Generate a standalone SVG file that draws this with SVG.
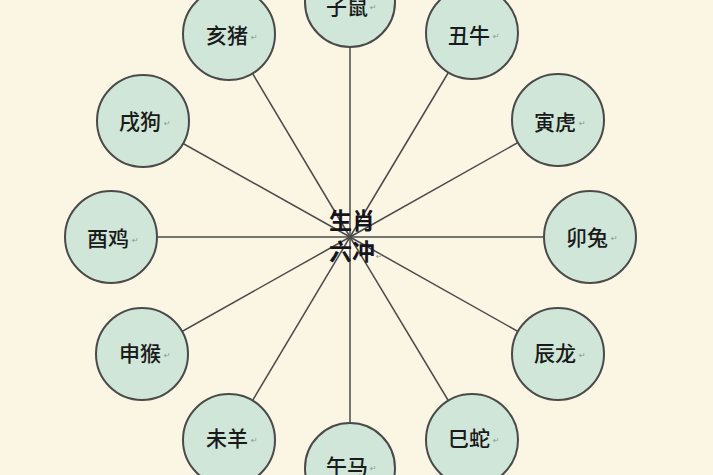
<svg xmlns="http://www.w3.org/2000/svg" width="713" height="475" viewBox="0 0 713 475">
<style>
.bg{fill:#fbf6e4}
.node circle{fill:#cfe6d8;stroke:#4a4a48;stroke-width:2}
.node text.lbl{font-family:"Noto Sans CJK SC","Noto Sans CJK JP",sans-serif;font-size:21px;font-weight:500;fill:#1a1a1a;text-anchor:middle;dominant-baseline:central}
.node text.mk{font-family:"DejaVu Sans",sans-serif;font-size:8px;fill:#8a9a90;dominant-baseline:central}
.links line{stroke:#4a4a4a;stroke-width:1.5}
.title{font-family:"Noto Sans CJK SC","Noto Sans CJK JP",sans-serif;font-size:23px;font-weight:bold;fill:#151520;text-anchor:middle}
</style>
<rect class="bg" x="0" y="0" width="713" height="475"/>
<g class="links">
<line x1="350" y1="237" x2="350" y2="2"/>
<line x1="350" y1="237" x2="472" y2="33"/>
<line x1="350" y1="237" x2="558" y2="120"/>
<line x1="350" y1="237" x2="590" y2="237"/>
<line x1="350" y1="237" x2="558" y2="354"/>
<line x1="350" y1="237" x2="472" y2="440"/>
<line x1="350" y1="237" x2="350" y2="468"/>
<line x1="350" y1="237" x2="229" y2="440"/>
<line x1="350" y1="237" x2="142" y2="354"/>
<line x1="350" y1="237" x2="111" y2="237"/>
<line x1="350" y1="237" x2="143" y2="121"/>
<line x1="350" y1="237" x2="229" y2="34"/>
</g>
<g id="n-zishu" class="node"><circle cx="350" cy="2" r="45"/><text class="lbl" x="347" y="5">子鼠</text><text class="mk" x="370" y="7">↵</text></g>
<g id="n-chouniu" class="node"><circle cx="472" cy="33" r="46"/><text class="lbl" x="469" y="34">丑牛</text><text class="mk" x="493" y="36">↵</text></g>
<g id="n-yinhu" class="node"><circle cx="558" cy="120" r="46"/><text class="lbl" x="555" y="121">寅虎</text><text class="mk" x="579" y="123">↵</text></g>
<g id="n-maotu" class="node"><circle cx="590" cy="237" r="46"/><text class="lbl" x="587" y="236">卯兔</text><text class="mk" x="611" y="238">↵</text></g>
<g id="n-chenlong" class="node"><circle cx="558" cy="354" r="46"/><text class="lbl" x="555" y="352">辰龙</text><text class="mk" x="579" y="355">↵</text></g>
<g id="n-sishe" class="node"><circle cx="472" cy="440" r="46"/><text class="lbl" x="469" y="437">巳蛇</text><text class="mk" x="493" y="440">↵</text></g>
<g id="n-wuma" class="node"><circle cx="350" cy="468" r="45"/><text class="lbl" x="347" y="465">午马</text><text class="mk" x="370" y="468">↵</text></g>
<g id="n-weiyang" class="node"><circle cx="229" cy="440" r="46"/><text class="lbl" x="227" y="437">未羊</text><text class="mk" x="251" y="440">↵</text></g>
<g id="n-shenhou" class="node"><circle cx="142" cy="354" r="46"/><text class="lbl" x="140" y="352">申猴</text><text class="mk" x="164" y="355">↵</text></g>
<g id="n-youji" class="node"><circle cx="111" cy="237" r="46"/><text class="lbl" x="108" y="237">酉鸡</text><text class="mk" x="132" y="240">↵</text></g>
<g id="n-xugou" class="node"><circle cx="143" cy="121" r="46"/><text class="lbl" x="140" y="120">戌狗</text><text class="mk" x="164" y="123">↵</text></g>
<g id="n-haizhu" class="node"><circle cx="229" cy="34" r="46"/><text class="lbl" x="227" y="34">亥猪</text><text class="mk" x="251" y="37">↵</text></g>
<g id="center" class="node">
<text class="title" x="352" y="229">生肖</text>
<text class="title" x="352" y="260">六冲</text>
<text class="mk" x="376" y="256">↵</text>
</g>
</svg>
